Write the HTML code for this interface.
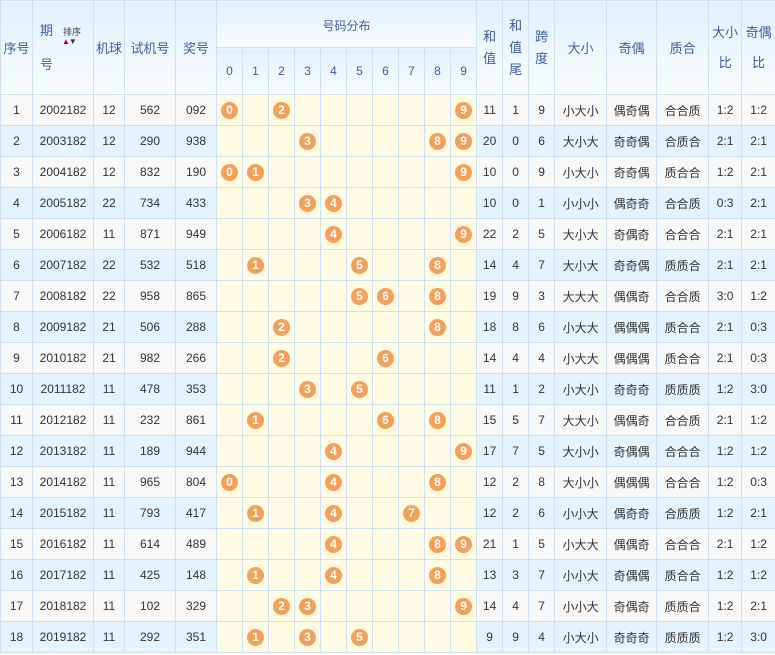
<!DOCTYPE html>
<html><head><meta charset="utf-8"><style>
body{margin:0;background:#fff;width:775px;height:655px;overflow:hidden;font-family:"Liberation Sans","Noto Sans CJK SC",sans-serif;}
table{border-collapse:collapse;table-layout:fixed;width:775px;font-size:12px;color:#333;}
td,th{border:1px solid #cfe0f2;text-align:center;padding:0;overflow:hidden;white-space:nowrap;}
thead th{font-weight:normal;color:#3d5ca6;font-size:13px;background:linear-gradient(#e2f0fd,#f9fcff);}
thead tr{height:47px;}
tbody tr{height:31px;}
tbody tr:nth-child(odd) td{background:#f8f8f8;}
tbody tr:nth-child(even) td{background:#e5f3fe;}
tbody td.d{background:#fffbe3 !important;}
.b{display:inline-block;width:17px;height:17px;border-radius:50%;background:#f4a05a;color:#fff;font-weight:bold;font-size:12px;line-height:17px;text-align:center;}
.v{line-height:22px;white-space:normal;}
</style></head><body>
<table>
<colgroup><col style="width:32px"><col style="width:61px"><col style="width:31px"><col style="width:51px"><col style="width:41px">
<col style="width:26px"><col style="width:26px"><col style="width:26px"><col style="width:26px"><col style="width:26px"><col style="width:26px"><col style="width:26px"><col style="width:26px"><col style="width:26px"><col style="width:26px">
<col style="width:26px"><col style="width:26px"><col style="width:26px"><col style="width:52px"><col style="width:50px"><col style="width:52px"><col style="width:33px"><col style="width:34px"></colgroup>
<thead>
<tr><th rowspan="2" style="position:relative">序号</th><th rowspan="2" style="text-align:left;padding-left:7px;line-height:34px;position:relative">期<br>号<span style="position:absolute;left:30px;top:26px;font-size:9px;line-height:10px;color:#444">排序</span><span style="position:absolute;left:29px;top:37px;font-size:8px;line-height:8px;letter-spacing:-1px"><span style="color:#b00">▲</span><span style="color:#333">▼</span></span></th><th rowspan="2">机球</th><th rowspan="2">试机号</th><th rowspan="2">奖号</th><th colspan="10" style="vertical-align:top;padding-top:16px;font-size:12px">号码分布</th><th rowspan="2" class="v">和<br>值</th><th rowspan="2" class="v">和<br>值<br>尾</th><th rowspan="2" class="v">跨<br>度</th><th rowspan="2">大小</th><th rowspan="2">奇偶</th><th rowspan="2">质合</th><th rowspan="2" class="v" style="line-height:30px">大小<br>比</th><th rowspan="2" class="v" style="line-height:30px">奇偶<br>比</th></tr>
<tr style="font-size:12px"><th style="font-size:12px">0</th><th style="font-size:12px">1</th><th style="font-size:12px">2</th><th style="font-size:12px">3</th><th style="font-size:12px">4</th><th style="font-size:12px">5</th><th style="font-size:12px">6</th><th style="font-size:12px">7</th><th style="font-size:12px">8</th><th style="font-size:12px">9</th></tr>
</thead>
<tbody>
<tr><td>1</td><td>2002182</td><td>12</td><td>562</td><td>092</td><td class="d"><span class="b">0</span></td><td class="d"></td><td class="d"><span class="b">2</span></td><td class="d"></td><td class="d"></td><td class="d"></td><td class="d"></td><td class="d"></td><td class="d"></td><td class="d"><span class="b">9</span></td><td>11</td><td>1</td><td>9</td><td>小大小</td><td>偶奇偶</td><td>合合质</td><td>1:2</td><td>1:2</td></tr>
<tr><td>2</td><td>2003182</td><td>12</td><td>290</td><td>938</td><td class="d"></td><td class="d"></td><td class="d"></td><td class="d"><span class="b">3</span></td><td class="d"></td><td class="d"></td><td class="d"></td><td class="d"></td><td class="d"><span class="b">8</span></td><td class="d"><span class="b">9</span></td><td>20</td><td>0</td><td>6</td><td>大小大</td><td>奇奇偶</td><td>合质合</td><td>2:1</td><td>2:1</td></tr>
<tr><td>3</td><td>2004182</td><td>12</td><td>832</td><td>190</td><td class="d"><span class="b">0</span></td><td class="d"><span class="b">1</span></td><td class="d"></td><td class="d"></td><td class="d"></td><td class="d"></td><td class="d"></td><td class="d"></td><td class="d"></td><td class="d"><span class="b">9</span></td><td>10</td><td>0</td><td>9</td><td>小大小</td><td>奇奇偶</td><td>质合合</td><td>1:2</td><td>2:1</td></tr>
<tr><td>4</td><td>2005182</td><td>22</td><td>734</td><td>433</td><td class="d"></td><td class="d"></td><td class="d"></td><td class="d"><span class="b">3</span></td><td class="d"><span class="b">4</span></td><td class="d"></td><td class="d"></td><td class="d"></td><td class="d"></td><td class="d"></td><td>10</td><td>0</td><td>1</td><td>小小小</td><td>偶奇奇</td><td>合合质</td><td>0:3</td><td>2:1</td></tr>
<tr><td>5</td><td>2006182</td><td>11</td><td>871</td><td>949</td><td class="d"></td><td class="d"></td><td class="d"></td><td class="d"></td><td class="d"><span class="b">4</span></td><td class="d"></td><td class="d"></td><td class="d"></td><td class="d"></td><td class="d"><span class="b">9</span></td><td>22</td><td>2</td><td>5</td><td>大小大</td><td>奇偶奇</td><td>合合合</td><td>2:1</td><td>2:1</td></tr>
<tr><td>6</td><td>2007182</td><td>22</td><td>532</td><td>518</td><td class="d"></td><td class="d"><span class="b">1</span></td><td class="d"></td><td class="d"></td><td class="d"></td><td class="d"><span class="b">5</span></td><td class="d"></td><td class="d"></td><td class="d"><span class="b">8</span></td><td class="d"></td><td>14</td><td>4</td><td>7</td><td>大小大</td><td>奇奇偶</td><td>质质合</td><td>2:1</td><td>2:1</td></tr>
<tr><td>7</td><td>2008182</td><td>22</td><td>958</td><td>865</td><td class="d"></td><td class="d"></td><td class="d"></td><td class="d"></td><td class="d"></td><td class="d"><span class="b">5</span></td><td class="d"><span class="b">6</span></td><td class="d"></td><td class="d"><span class="b">8</span></td><td class="d"></td><td>19</td><td>9</td><td>3</td><td>大大大</td><td>偶偶奇</td><td>合合质</td><td>3:0</td><td>1:2</td></tr>
<tr><td>8</td><td>2009182</td><td>21</td><td>506</td><td>288</td><td class="d"></td><td class="d"></td><td class="d"><span class="b">2</span></td><td class="d"></td><td class="d"></td><td class="d"></td><td class="d"></td><td class="d"></td><td class="d"><span class="b">8</span></td><td class="d"></td><td>18</td><td>8</td><td>6</td><td>小大大</td><td>偶偶偶</td><td>质合合</td><td>2:1</td><td>0:3</td></tr>
<tr><td>9</td><td>2010182</td><td>21</td><td>982</td><td>266</td><td class="d"></td><td class="d"></td><td class="d"><span class="b">2</span></td><td class="d"></td><td class="d"></td><td class="d"></td><td class="d"><span class="b">6</span></td><td class="d"></td><td class="d"></td><td class="d"></td><td>14</td><td>4</td><td>4</td><td>小大大</td><td>偶偶偶</td><td>质合合</td><td>2:1</td><td>0:3</td></tr>
<tr><td>10</td><td>2011182</td><td>11</td><td>478</td><td>353</td><td class="d"></td><td class="d"></td><td class="d"></td><td class="d"><span class="b">3</span></td><td class="d"></td><td class="d"><span class="b">5</span></td><td class="d"></td><td class="d"></td><td class="d"></td><td class="d"></td><td>11</td><td>1</td><td>2</td><td>小大小</td><td>奇奇奇</td><td>质质质</td><td>1:2</td><td>3:0</td></tr>
<tr><td>11</td><td>2012182</td><td>11</td><td>232</td><td>861</td><td class="d"></td><td class="d"><span class="b">1</span></td><td class="d"></td><td class="d"></td><td class="d"></td><td class="d"></td><td class="d"><span class="b">6</span></td><td class="d"></td><td class="d"><span class="b">8</span></td><td class="d"></td><td>15</td><td>5</td><td>7</td><td>大大小</td><td>偶偶奇</td><td>合合质</td><td>2:1</td><td>1:2</td></tr>
<tr><td>12</td><td>2013182</td><td>11</td><td>189</td><td>944</td><td class="d"></td><td class="d"></td><td class="d"></td><td class="d"></td><td class="d"><span class="b">4</span></td><td class="d"></td><td class="d"></td><td class="d"></td><td class="d"></td><td class="d"><span class="b">9</span></td><td>17</td><td>7</td><td>5</td><td>大小小</td><td>奇偶偶</td><td>合合合</td><td>1:2</td><td>1:2</td></tr>
<tr><td>13</td><td>2014182</td><td>11</td><td>965</td><td>804</td><td class="d"><span class="b">0</span></td><td class="d"></td><td class="d"></td><td class="d"></td><td class="d"><span class="b">4</span></td><td class="d"></td><td class="d"></td><td class="d"></td><td class="d"><span class="b">8</span></td><td class="d"></td><td>12</td><td>2</td><td>8</td><td>大小小</td><td>偶偶偶</td><td>合合合</td><td>1:2</td><td>0:3</td></tr>
<tr><td>14</td><td>2015182</td><td>11</td><td>793</td><td>417</td><td class="d"></td><td class="d"><span class="b">1</span></td><td class="d"></td><td class="d"></td><td class="d"><span class="b">4</span></td><td class="d"></td><td class="d"></td><td class="d"><span class="b">7</span></td><td class="d"></td><td class="d"></td><td>12</td><td>2</td><td>6</td><td>小小大</td><td>偶奇奇</td><td>合质质</td><td>1:2</td><td>2:1</td></tr>
<tr><td>15</td><td>2016182</td><td>11</td><td>614</td><td>489</td><td class="d"></td><td class="d"></td><td class="d"></td><td class="d"></td><td class="d"><span class="b">4</span></td><td class="d"></td><td class="d"></td><td class="d"></td><td class="d"><span class="b">8</span></td><td class="d"><span class="b">9</span></td><td>21</td><td>1</td><td>5</td><td>小大大</td><td>偶偶奇</td><td>合合合</td><td>2:1</td><td>1:2</td></tr>
<tr><td>16</td><td>2017182</td><td>11</td><td>425</td><td>148</td><td class="d"></td><td class="d"><span class="b">1</span></td><td class="d"></td><td class="d"></td><td class="d"><span class="b">4</span></td><td class="d"></td><td class="d"></td><td class="d"></td><td class="d"><span class="b">8</span></td><td class="d"></td><td>13</td><td>3</td><td>7</td><td>小小大</td><td>奇偶偶</td><td>质合合</td><td>1:2</td><td>1:2</td></tr>
<tr><td>17</td><td>2018182</td><td>11</td><td>102</td><td>329</td><td class="d"></td><td class="d"></td><td class="d"><span class="b">2</span></td><td class="d"><span class="b">3</span></td><td class="d"></td><td class="d"></td><td class="d"></td><td class="d"></td><td class="d"></td><td class="d"><span class="b">9</span></td><td>14</td><td>4</td><td>7</td><td>小小大</td><td>奇偶奇</td><td>质质合</td><td>1:2</td><td>2:1</td></tr>
<tr><td>18</td><td>2019182</td><td>11</td><td>292</td><td>351</td><td class="d"></td><td class="d"><span class="b">1</span></td><td class="d"></td><td class="d"><span class="b">3</span></td><td class="d"></td><td class="d"><span class="b">5</span></td><td class="d"></td><td class="d"></td><td class="d"></td><td class="d"></td><td>9</td><td>9</td><td>4</td><td>小大小</td><td>奇奇奇</td><td>质质质</td><td>1:2</td><td>3:0</td></tr>
</tbody></table>
</body></html>
